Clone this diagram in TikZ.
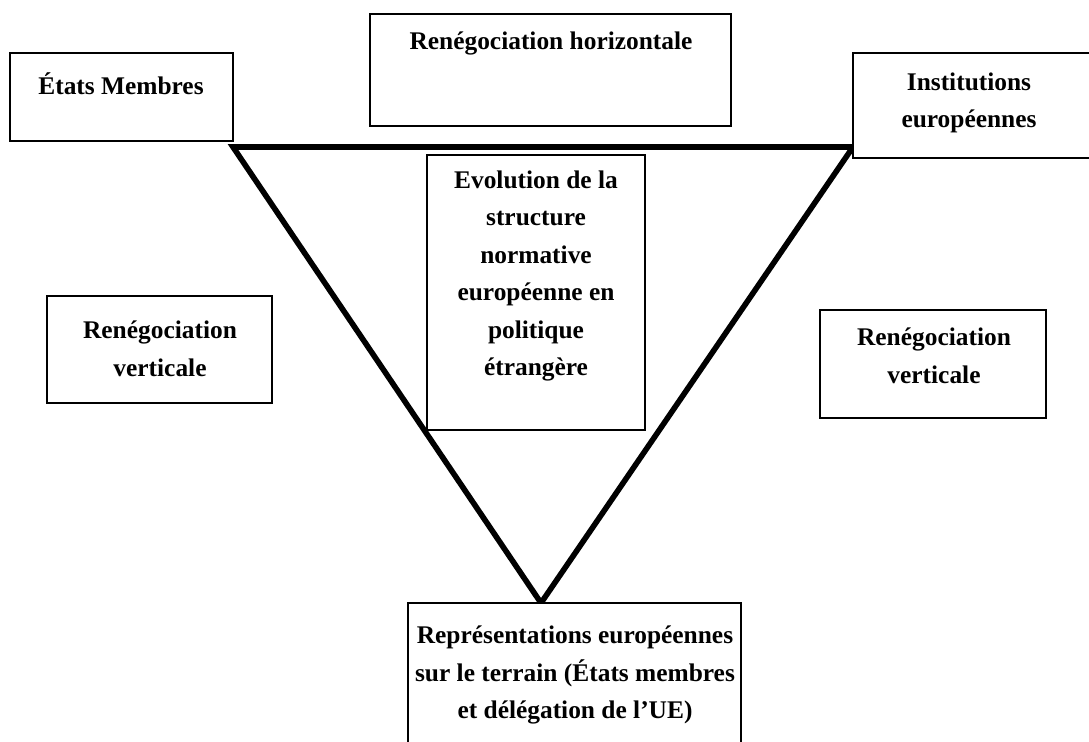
\documentclass[tikz,border=0pt]{standalone}
\usepackage{fontspec}
\setmainfont{Liberation Serif}
\usetikzlibrary{fit}

\begin{document}
\begin{tikzpicture}[x=0.5pt,y=-0.5pt,
    box/.style={draw, fill=white, line width=1pt, inner sep=0pt},
    txt/.style={align=center, inner sep=0pt,
      font=\bfseries\fontsize{12.7}{18.75}\selectfont}]
  \useasboundingbox (0,0) rectangle (1089,742);

  % the triangle
  \coordinate (tl) at (233,147);
  \coordinate (tr) at (853,147);
  \coordinate (bot) at (541,603);
  \draw[line width=2.8pt, line join=miter] (tl) -- (tr) -- (bot) -- cycle;

  % corners
  \node[box, fit={(10,53) (233,141)}] (etats) {};
  \node[txt] (etatsT) at (121,84) {États Membres};

  \node[box, fit={(370,14) (731,126)}] (horiz) {};
  \node[txt] (horizT) at (551,43) {Renégociation horizontale};

  \node[box, fit={(853,53) (1094,158)}] (inst) {};
  \node[txt] (instT) at (969,103) {Institutions\\européennes};

  % centre
  \node[box, fit={(427,155) (645,430)}] (evol) {};
  \node[txt] (evolT) at (536,276) {Evolution de la\\structure\\normative\\européenne en\\politique\\étrangère};

  % sides
  \node[box, fit={(47,296) (272,403)}] (vertL) {};
  \node[txt] (vertLT) at (160,349) {Renégociation\\verticale};

  \node[box, fit={(820,310) (1046,418)}] (vertR) {};
  \node[txt] (vertRT) at (934,356) {Renégociation\\verticale};

  % bottom
  \node[box, fit={(408,603) (741,748)}] (terrain) {};
  \node[txt] (terrainT) at (575,675) {Représentations européennes\\sur le terrain (États membres\\et délégation de l’UE)};
\end{tikzpicture}
\end{document}
